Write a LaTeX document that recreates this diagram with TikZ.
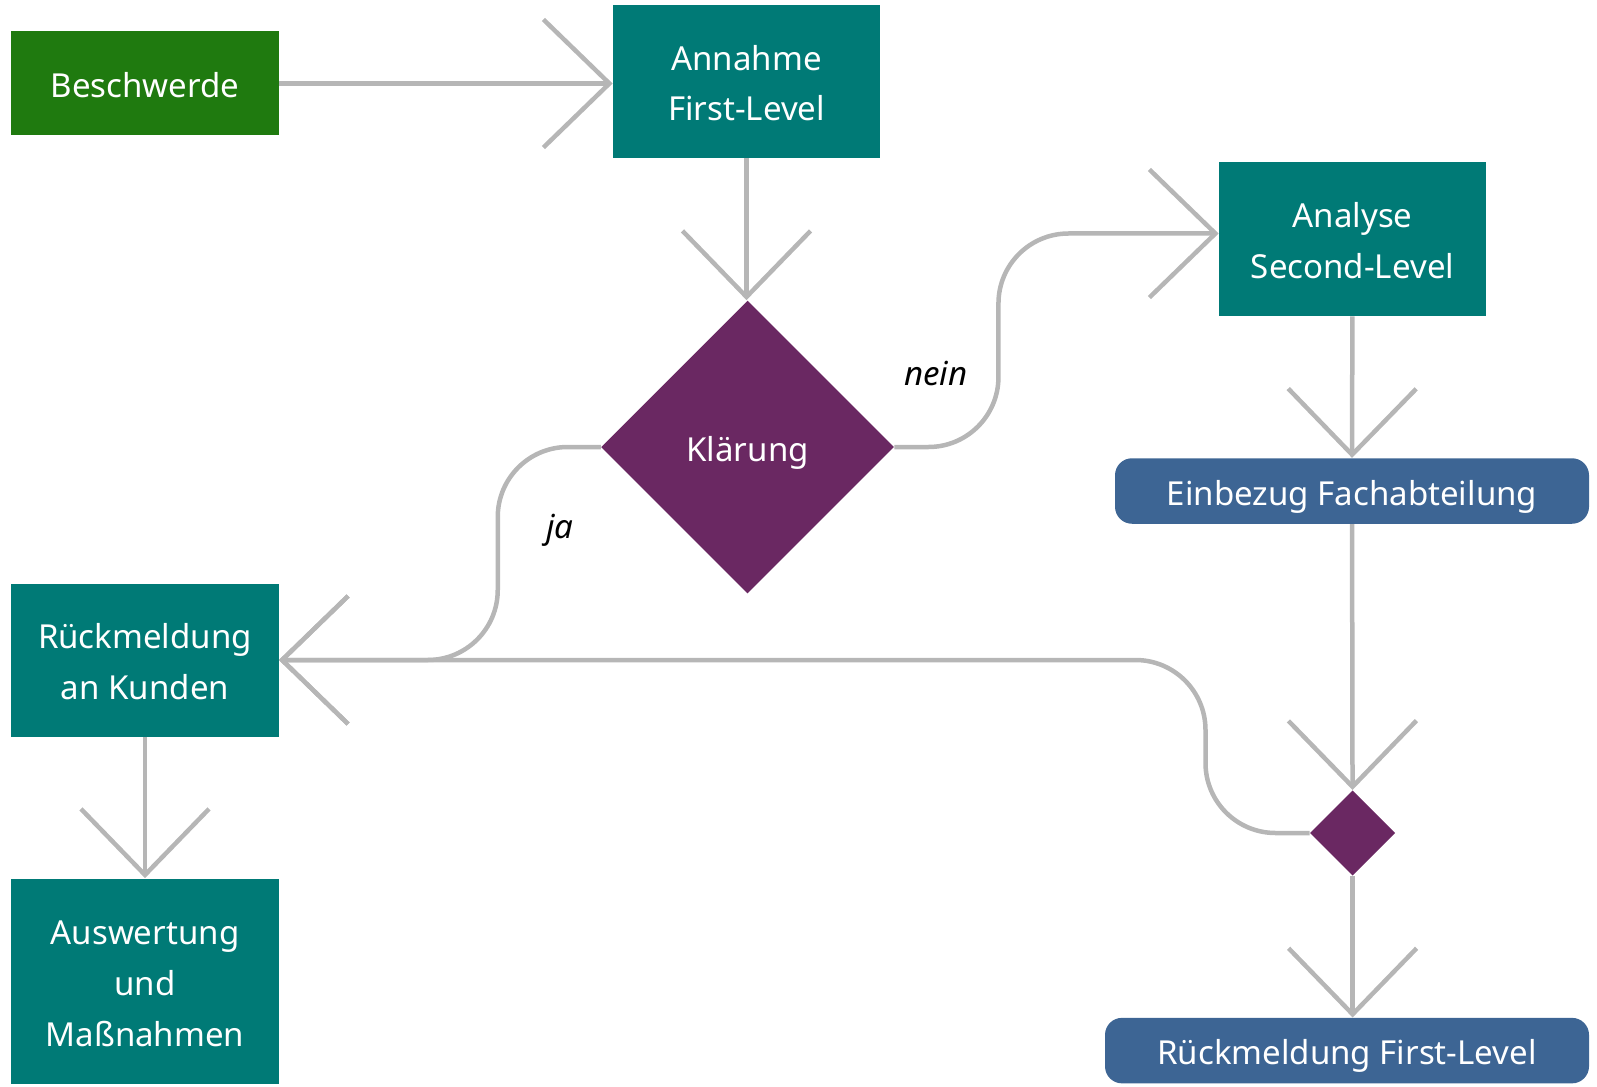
\documentclass[tikz,border=0pt]{standalone}
\usepackage{fontspec}
\setmainfont{Noto Sans}
\usetikzlibrary{arrows.meta,positioning,shapes.geometric}

\definecolor{gruen}{HTML}{1F7A0F}
\definecolor{petrol}{HTML}{007A76}
\definecolor{lila}{HTML}{6A2862}
\definecolor{blau}{HTML}{3D6594}
\definecolor{linie}{HTML}{B6B6B6}

\begin{document}
\begin{tikzpicture}[x=0.2mm,y=-0.2mm,
    font=\fontsize{18.8pt}{29pt}\selectfont,
    box/.style={rectangle,fill=petrol,text=white,align=center,minimum width=53.4mm,inner sep=0pt,text height=5.6mm,text depth=0pt},
    twolines/.style={text height=15.8mm},
    threelines/.style={text height=26mm},
    pill/.style={rectangle,rounded corners=3.4mm,fill=blau,text=white,minimum height=13.1mm,inner sep=0pt,text height=5.6mm,text depth=0pt},
    decision/.style={diamond,aspect=1,fill=lila,text=white,inner sep=0pt,text height=5.6mm,text depth=0pt},
    antwort/.style={font=\fontsize{18.8pt}{29pt}\selectfont\itshape},
    flow/.style={draw=linie,line width=0.9mm,-{Straight Barb[length=13.2mm,width=25.6mm]}}]
  \useasboundingbox (0,0) rectangle (1597,1087);

  \node[box,fill=gruen,minimum height=20.8mm] (beschwerde) at (145,83.5) {Beschwerde};
  \node[box,twolines,minimum height=30.6mm] (annahme) at (746.5,81.5) {Annahme\\First-Level};
  \node[decision,minimum size=58.6mm] (klaerung) at (747.6,447) {Klärung};
  \node[box,twolines,minimum height=30.8mm] (analyse) at (1352.5,239) {Analyse\\Second-Level};
  \node[pill,minimum width=94.8mm] (einbezug) at (1352,491) {Einbezug Fachabteilung};
  \node[decision,minimum size=17.1mm] (merge) at (1352.6,833) {};
  \node[pill,minimum width=96.8mm] (rueckfl) at (1347,1050.6) {Rückmeldung First-Level};
  \node[box,twolines,minimum height=30.6mm] (kunde) at (145,660) {Rückmeldung\\an Kunden};
  \node[box,threelines,minimum height=41mm] (auswertung) at (145,981) {Auswertung\\und\\Maßnahmen};

  \node[antwort] (ja) at (560,530) {ja};
  \node[antwort] (nein) at (936,374) {nein};

  \draw[flow] (beschwerde.east) -- (beschwerde.east -| annahme.west);
  \draw[flow] (annahme.south) -- (annahme.south |- klaerung.north);
  \draw[flow,rounded corners=14mm] (klaerung.west) -- ++(-103,0) |- (kunde.east);
  \draw[flow,rounded corners=14mm] (klaerung.east) -- ++(104,0) |- ([yshift=1.1mm]analyse.west);
  \draw[flow] (analyse) -- (einbezug);
  \draw[flow] (einbezug) -- (merge);
  \draw[flow,rounded corners=14mm] (merge.west) -- ++(-104,0) |- (kunde.east);
  \draw[flow] (merge.south) -- (merge.south |- rueckfl.north);
  \draw[flow] (kunde) -- (auswertung);
\end{tikzpicture}
\end{document}
